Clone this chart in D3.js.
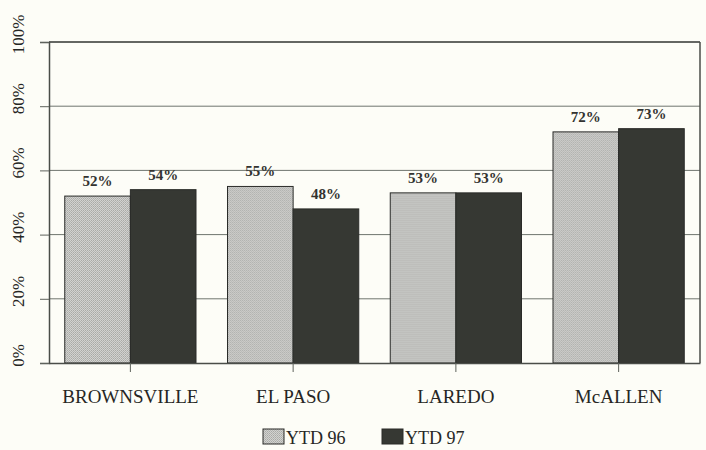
<!DOCTYPE html>
<html>
<head>
<meta charset="utf-8">
<script src="https://cdn.jsdelivr.net/npm/d3@7"></script>
<style>
body{margin:0;background:#fdfdf7;}
svg{display:block;font-family:"Liberation Serif","Times New Roman",serif;}
</style>
</head>
<body>
<svg id="chart" width="706" height="450"></svg>
<script>
// data
var cities = ["BROWNSVILLE", "EL PASO", "LAREDO", "McALLEN"];
var ytd96 = [52, 55, 53, 72];
var ytd97 = [54, 48, 53, 73];
var seriesNames = ["YTD 96", "YTD 97"];
var yTicks = [0, 20, 40, 60, 80, 100];

var svg = d3.select("#chart");
var mLeft = 49, mRight = 700, mTop = 42, mBottom = 363;

var x = d3.scaleBand().domain(cities).range([mLeft, mRight]).paddingInner(0).paddingOuter(0);
var x1 = d3.scaleBand().domain(seriesNames).range([0, x.bandwidth()]).paddingInner(0).paddingOuter(0.24);
var y = d3.scaleLinear().domain([0, 100]).range([mBottom, mTop]);

// dotted fill for the light bars
var defs = svg.append("defs");
var pat = defs.append("pattern").attr("id","dots").attr("width",2).attr("height",2).attr("patternUnits","userSpaceOnUse");
pat.append("rect").attr("width",2).attr("height",2).attr("fill","#d2d2d0");
pat.append("rect").attr("width",1).attr("height",1).attr("fill","#a9aaa6");
pat.append("rect").attr("x",1).attr("y",1).attr("width",1).attr("height",1).attr("fill","#b4b5b1");

// grid lines
svg.append("g").selectAll("line").data(yTicks.slice(1)).enter().append("line")
	.attr("x1", mLeft).attr("x2", mRight)
	.attr("y1", function(d){ return y(d); }).attr("y2", function(d){ return y(d); })
	.attr("stroke", "#6f756e").attr("stroke-width", 1);

// y axis
var yAxis = d3.axisLeft(y).tickValues(yTicks).tickSize(9).tickFormat(function(d){ return d + "%"; });
var gy = svg.append("g").attr("transform", "translate(" + mLeft + ",0)").call(yAxis);
gy.select(".domain").attr("stroke", "#4a4d48").attr("stroke-width", 1.5);
gy.selectAll(".tick line").attr("stroke", "#5e625c");
gy.selectAll(".tick text")
	.attr("transform", "translate(-31,-8) rotate(-90)")
	.attr("x", 0).attr("y", 0).attr("dy", "0.35em").attr("text-anchor", "middle")
	.attr("font-size", 17).attr("fill", "#262624").attr("font-family", "Liberation Serif");

// frame: top and right
svg.append("line").attr("x1", mLeft).attr("x2", mRight).attr("y1", mTop).attr("y2", mTop).attr("stroke", "#4a4d48").attr("stroke-width", 1.5);
svg.append("line").attr("x1", mRight).attr("x2", mRight).attr("y1", mTop).attr("y2", mBottom).attr("stroke", "#4a4d48").attr("stroke-width", 1.5);

// bars
var rows = cities.map(function(c, i){ return {city: c, vals: [ytd96[i], ytd97[i]]}; });
var groups = svg.append("g").selectAll("g").data(rows).enter().append("g")
	.attr("transform", function(d){ return "translate(" + x(d.city) + ",0)"; });

groups.selectAll("rect").data(function(d){ return d.vals.map(function(v, j){ return {s: seriesNames[j], v: v}; }); })
	.enter().append("rect")
	.attr("x", function(d){ return x1(d.s); })
	.attr("y", function(d){ return y(d.v); })
	.attr("width", x1.bandwidth())
	.attr("height", function(d){ return y(0) - y(d.v); })
	.attr("fill", function(d, j){ return j == 0 ? "url(#dots)" : "#363833"; })
	.attr("stroke", "#2a2b28").attr("stroke-width", 1);

groups.selectAll("text").data(function(d){ return d.vals.map(function(v, j){ return {s: seriesNames[j], v: v}; }); })
	.enter().append("text")
	.attr("x", function(d){ return x1(d.s) + x1.bandwidth() / 2; })
	.attr("y", function(d){ return y(d.v) - 10; })
	.attr("text-anchor", "middle").attr("font-size", 15).attr("font-weight", "bold")
	.attr("fill", "#333330")
	.text(function(d){ return d.v + "%"; });

// x axis
var xAxis = d3.axisBottom(x).tickSize(9).tickSizeOuter(0);
var gx = svg.append("g").attr("transform", "translate(0," + mBottom + ")").call(xAxis);
gx.select(".domain").attr("stroke", "#4a4d48").attr("stroke-width", 1.5);
gx.selectAll(".tick line").attr("stroke", "#5e625c");
gx.selectAll(".tick text").attr("y", 27).attr("font-size", 19).attr("fill", "#262624").attr("font-family", "Liberation Serif");

// legend
var legendX = [263, 382];
var lg = svg.append("g").selectAll("g").data(seriesNames).enter().append("g")
	.attr("transform", function(d, i){ return "translate(" + legendX[i] + ",429)"; });
lg.append("rect").attr("width", 21).attr("height", 15)
	.attr("fill", function(d, i){ return i == 0 ? "url(#dots)" : "#363833"; })
	.attr("stroke", "#2a2b28");
lg.append("text").attr("x", 23).attr("y", 15).attr("font-size", 18).attr("fill", "#262624")
	.text(function(d){ return d; });
</script>
</body>
</html>
